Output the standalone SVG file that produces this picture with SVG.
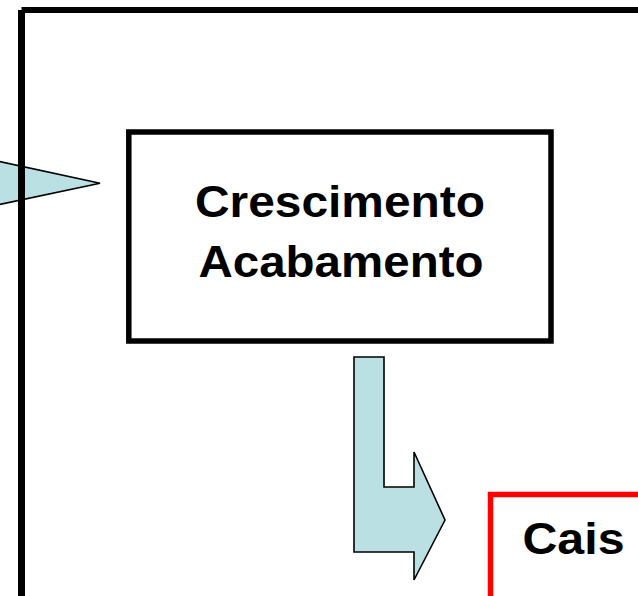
<svg xmlns="http://www.w3.org/2000/svg" width="638" height="596" viewBox="0 0 638 596">
<style>
.lbl{font-family:"Liberation Sans",Arial,sans-serif;font-weight:bold;font-size:44px;fill:#000}
.arrow{fill:#bbe0e3;stroke:#000;stroke-width:1.6;stroke-linejoin:miter}
</style>
<rect x="0" y="0" width="638" height="596" fill="#fff"/>
<g id="connectors">
<polygon class="arrow" points="-10,159.5 100,183.3 -10,206.5"/>
<polygon class="arrow" points="354,357 384,357 384,487 414,487 414,452 445,520 414,580 414,552 354,552"/>
</g>
<g id="frame">
<line x1="21.5" y1="10" x2="660" y2="10" stroke="#000" stroke-width="6"/>
<line x1="21.5" y1="10" x2="21.5" y2="620" stroke="#000" stroke-width="7"/>
</g>
<g id="crescimento">
<rect x="128.8" y="132" width="422.2" height="209" fill="#fff" stroke="#000" stroke-width="5.5"/>
<text class="lbl" x="195" y="216.5" textLength="290" lengthAdjust="spacingAndGlyphs">Crescimento</text>
<text class="lbl" x="198.5" y="276.5" textLength="285" lengthAdjust="spacingAndGlyphs">Acabamento</text>
</g>
<g id="cais">
<rect x="490.5" y="494.5" width="200" height="150" fill="#fff" stroke="#f00" stroke-width="5.5"/>
<text class="lbl" x="522.5" y="553.5" textLength="102" lengthAdjust="spacingAndGlyphs">Cais</text>
</g>
</svg>
